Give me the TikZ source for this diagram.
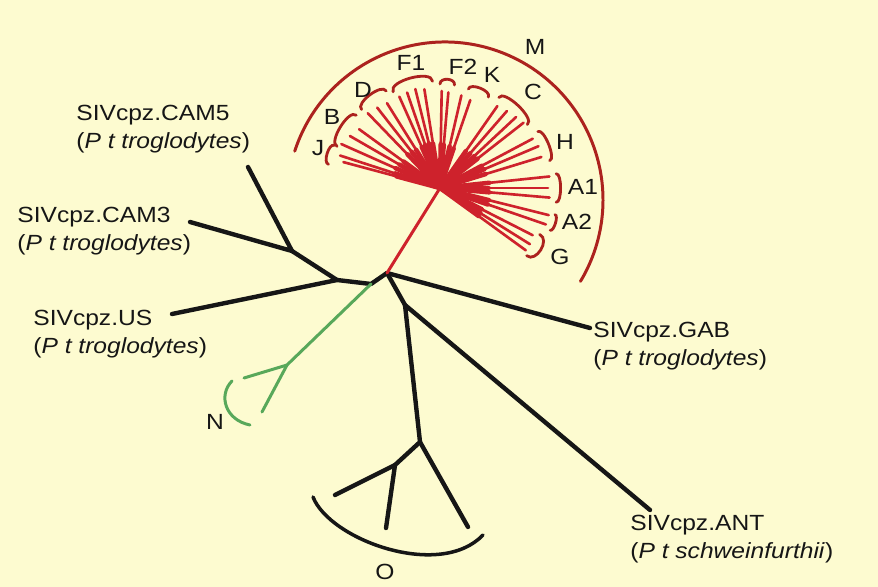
\documentclass[tikz,border=0pt]{standalone}
\usepackage{fontspec}
\setmainfont[FakeStretch=1.12]{Liberation Sans}
\usetikzlibrary{calc}

\definecolor{paper}{RGB}{253,251,208}
\definecolor{rayred}{RGB}{206,34,44}
\definecolor{arcred}{RGB}{172,34,30}
\definecolor{ngreen}{RGB}{88,168,90}
\definecolor{ink}{RGB}{22,22,22}

\begin{document}
\begin{tikzpicture}[x=0.02cm, y=0.02cm,
  tree/.style={draw=ink, line width=2.5pt, line cap=round, line join=round},
  ray/.style={draw=rayred, line width=1.5pt, line cap=round},
  clade/.style={draw=arcred, line width=1.6pt, line cap=round},
  nbranch/.style={draw=ngreen, line width=1.7pt, line cap=round, line join=round},
  taxon/.style={font=\fontsize{12.5}{15.5}\selectfont, text=ink, align=left,
                inner sep=0pt, anchor=west},
  group/.style={font=\fontsize{12.5}{15}\selectfont, text=ink, inner sep=0pt}]

\fill[paper] (0,0) rectangle (878,-587);
\useasboundingbox (0,0) rectangle (878,-587);

% inner nodes of the tree
\coordinate (mc) at (440,-188);
\coordinate (root) at (387,-273);
\coordinate (k1) at (371,-284);
\coordinate (n1) at (337,-280);
\coordinate (n2) at (292,-251);
\coordinate (n3) at (405,-305);
\coordinate (n4) at (420,-442);
\coordinate (n5) at (395,-465);
\coordinate (nn) at (287,-365);

% leaf ends
\coordinate (cam5 tip) at (248,-167);
\coordinate (cam3 tip) at (190,-222);
\coordinate (us tip) at (172,-314);
\coordinate (gab tip) at (590,-328);
\coordinate (ant tip) at (650,-510);
\coordinate (o1) at (335,-495);
\coordinate (o2) at (386,-528);
\coordinate (o3) at (468,-527);
\coordinate (nl1) at (244,-378);
\coordinate (nl2) at (262,-412);

% labels
\node[taxon] (cam5) at (76,-129) {SIVcpz.CAM5\\(\textit{P t troglodytes})};
\node[taxon] (cam3) at (17,-231) {SIVcpz.CAM3\\(\textit{P t troglodytes})};
\node[taxon] (us) at (33,-334) {SIVcpz.US\\(\textit{P t troglodytes})};
\node[taxon] (gab) at (593,-346) {SIVcpz.GAB\\(\textit{P t troglodytes})};
\node[taxon] (ant) at (630,-539) {SIVcpz.ANT\\(\textit{P t schweinfurthii})};

% black part
\draw[tree] (cam5 tip) -- (n2) -- (cam3 tip);
\draw[tree] (n2) -- (n1) -- (us tip);
\draw[tree] (n1) -- (k1) -- (root) -- (gab tip);
\draw[tree] (root) -- (n3) -- (ant tip);
\draw[tree] (n3) -- (n4) -- (n5) -- (o1);
\draw[tree] (n5) -- (o2);
\draw[tree] (n4) -- (o3);
\draw[tree, line width=2pt] (313,-497) .. controls (330,-540) and (440,-580) .. (483,-535);
\node[group] (grpO) at (385,-572) {O};

% group N
\draw[nbranch] (k1) -- (nn) -- (nl1);
\draw[nbranch] (nn) -- (nl2);
\draw[nbranch] (232,-381) .. controls (218,-395) and (225,-420) .. (250,-425);
\node[group] (grpN) at (215,-422) {N};

% group M
\draw[ray, line width=1.7pt] (root) -- (mc);
\begin{scope}[shift={(mc)}]
  \foreach \a/\r in {165/100, 162/105, 156/108, 150/104, 144/100,
                     134/104, 128/102, 122/100, 114/100, 109/101, 104/102, 99/100,
                     89/97, 85/96, 77/95, 71/93, 55/100, 49/102, 43/104, 38/106,
                     28/105, 23/107, 17/106, 6/110, 0/108, -5/110,
                     -14/112, -19/112, -27/104, -32/106, -36/106}
  {
    \draw[ray, line width=2.6pt] (0,0) -- (\a:0.45*\r);
    \draw[ray] (0,0) -- (\a:\r);
  }
  \foreach \a/\b/\r/\h in {158/168/114/6, 139/158/111/10, 119/135/111/9,
                           94/116/107/12, 82/90/104/7, 62/74/103/7,
                           36/57/108/10, 14/30/113/7, -7/7/117/6,
                           -21/-13/118/4, -38/-25/110/12}
    \draw[clade] (\a:\r) .. controls (\a:{\r+\h}) and (\b:{\r+\h}) .. (\b:\r);
\end{scope}
\draw[clade, line width=1.7pt] (445,-200) ++(162:158) arc[start angle=162, end angle=-31, radius=158];

\foreach \n/\x/\y in {J/318/148, B/332/117, D/363/90, F1/411/63, F2/463/67,
                      K/492/75, C/533/92, H/565/142, A1/583/187, A2/577/222,
                      G/560/257, M/535/47}
  \node[group] (grp\n) at (\x,-\y) {\n};

\end{tikzpicture}
\end{document}
